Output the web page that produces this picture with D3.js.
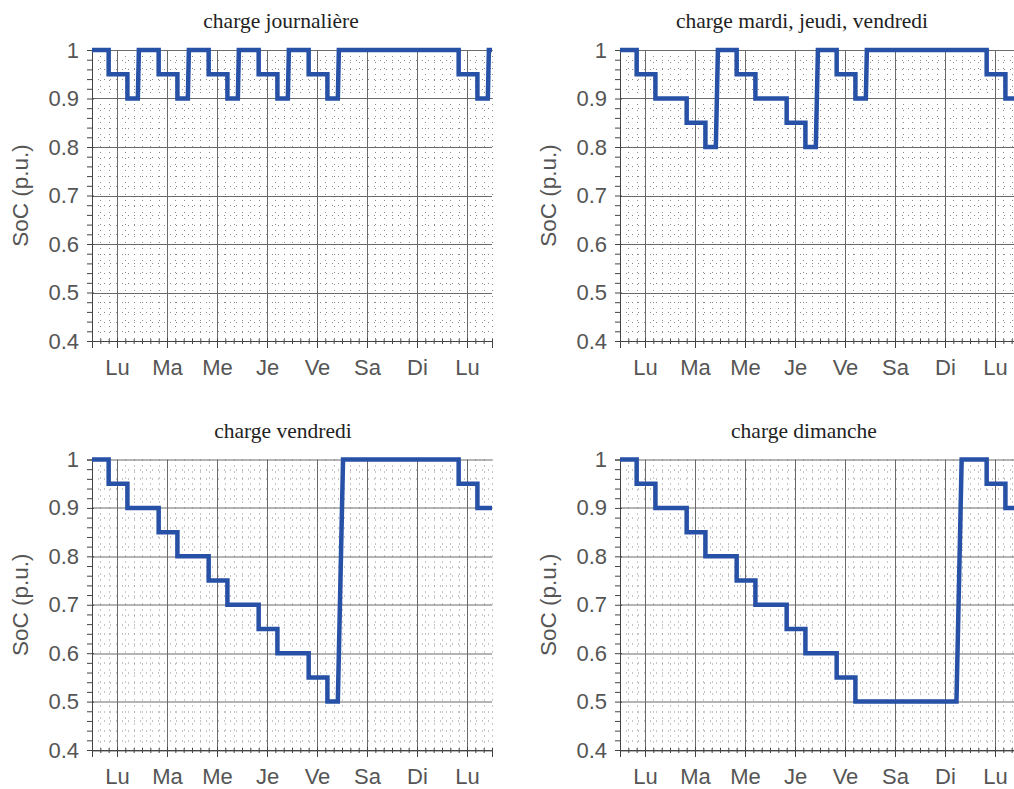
<!DOCTYPE html>
<html><head><meta charset="utf-8">
<script src="https://cdn.jsdelivr.net/npm/d3@7"></script>
<style>body{margin:0;background:#fff} svg{display:block}</style>
</head><body>
<svg id="c" width="1014" height="789"></svg>
<script>
// ---- data ----
const dayLabels = ["Lu","Ma","Me","Je","Ve","Sa","Di","Lu"];
const dayTickHours = [12,36,60,84,108,132,156,180];
const socTicks = [0.4,0.5,0.6,0.7,0.8,0.9,1];
const socTickLabels = ["0.4","0.5","0.6","0.7","0.8","0.9","1"];
const titles = ["charge journalière","charge mardi, jeudi, vendredi","charge vendredi","charge dimanche"];

const hoursJournaliere = [0,8,8,17,17,22,22.5, 32,32,41,41,46,46.5, 56,56,65,65,70,70.5, 80,80,89,89,94,94.5, 104,104,113,113,118,118.5, 176,176,185,185,190,190.5,192];
const socJournaliere   = [1,1,.95,.95,.9,.9,1, 1,.95,.95,.9,.9,1, 1,.95,.95,.9,.9,1, 1,.95,.95,.9,.9,1, 1,.95,.95,.9,.9,1, 1,.95,.95,.9,.9,1,1];

const hoursMaJeVe = [0,8,8,17,17,32,32,41,41,46,47, 56,56,65,65,80,80,89,89,94,95, 104,104,113,113,118,118.5, 176,176,185,185,192];
const socMaJeVe   = [1,1,.95,.95,.9,.9,.85,.85,.8,.8,1, 1,.95,.95,.9,.9,.85,.85,.8,.8,1, 1,.95,.95,.9,.9,1, 1,.95,.95,.9,.9];

const hoursVendredi = [0,8,8,17,17,32,32,41,41,56,56,65,65,80,80,89,89,104,104,113,113,118,120.5,176,176,185,185,192];
const socVendredi   = [1,1,.95,.95,.9,.9,.85,.85,.8,.8,.75,.75,.7,.7,.65,.65,.6,.6,.55,.55,.5,.5,1,1,.95,.95,.9,.9];

const hoursDimanche = [0,8,8,17,17,32,32,41,41,56,56,65,65,80,80,89,89,104,104,113,113,161.5,164,176,176,185,185,192];
const socDimanche   = [1,1,.95,.95,.9,.9,.85,.85,.8,.8,.75,.75,.7,.7,.65,.65,.6,.6,.55,.55,.5,.5,1,1,.95,.95,.9,.9];

const series = [
  [hoursJournaliere, socJournaliere],
  [hoursMaJeVe, socMaJeVe],
  [hoursVendredi, socVendredi],
  [hoursDimanche, socDimanche]
];

// ---- layout ----
const W = 400;
const panels = [
  {x:92,  y:50,    h:291, tx:281},
  {x:620, y:50,    h:291, tx:802},
  {x:92,  y:459.5, h:290.5, tx:283},
  {x:620, y:459.5, h:290.5, tx:804}
];
const sans = "'Liberation Sans', Arial, Helvetica, sans-serif";
const serif = "'Liberation Serif', 'Times New Roman', serif";
const svg = d3.select("#c");

const minorHours = d3.range(0, 193, 4).filter(h => !dayTickHours.includes(h));
const minorSoc = d3.range(40, 101, 2).map(v => v/100).filter(v => Math.abs(v*10 - Math.round(v*10)) > 1e-6);

panels.forEach((p, i) => {
  const g = svg.append("g").attr("transform", `translate(${p.x},${p.y})`);
  const x = d3.scaleLinear().domain([0,192]).range([0,W]);
  const y = d3.scaleLinear().domain([0.4,1]).range([p.h,0]);

  // minor dotted grid
  g.append("g").selectAll("line").data(minorHours).join("line")
    .attr("x1", d => Math.round(x(d))+0.5).attr("x2", d => Math.round(x(d))+0.5).attr("y1", 0).attr("y2", p.h)
    .attr("stroke", "#8a8a8a").attr("stroke-width", 1).attr("stroke-dasharray", "1,5");
  g.append("g").selectAll("line").data(minorSoc).join("line")
    .attr("x1", 0).attr("x2", W).attr("y1", d => Math.round(y(d))+0.5).attr("y2", d => Math.round(y(d))+0.5)
    .attr("stroke", "#8a8a8a").attr("stroke-width", 1).attr("stroke-dasharray", "1,5");

  // major grid
  g.append("g").selectAll("line").data(dayTickHours).join("line")
    .attr("x1", d => Math.round(x(d))+0.5).attr("x2", d => Math.round(x(d))+0.5).attr("y1", 0).attr("y2", p.h)
    .attr("stroke", "#6a6a6a").attr("stroke-width", 1);
  g.append("g").selectAll("line").data(socTicks).join("line")
    .attr("x1", 0).attr("x2", W).attr("y1", d => Math.round(y(d))+0.5).attr("y2", d => Math.round(y(d))+0.5)
    .attr("stroke", "#6a6a6a").attr("stroke-width", 1);

  // x axis
  const xa = g.append("g").attr("transform", `translate(0,${p.h})`)
    .call(d3.axisBottom(x).tickValues(dayTickHours).tickFormat((d,k) => dayLabels[k]).tickSize(7).tickPadding(11));
  xa.select(".domain").attr("stroke", "#444");
  xa.selectAll(".tick line").attr("y1", -3).attr("stroke", "#444");
  xa.selectAll("text").attr("font-family", sans).attr("font-size", 22).attr("fill", "#555");
  const xm = g.append("g").attr("transform", `translate(0,${p.h})`)
    .call(d3.axisBottom(x).tickValues(minorHours).tickFormat("").tickSize(3));
  xm.select(".domain").remove();
  xm.selectAll(".tick line").attr("y1", -2).attr("stroke", "#444");

  // y axis
  const ya = g.append("g")
    .call(d3.axisLeft(y).tickValues(socTicks).tickFormat((d,k) => socTickLabels[k]).tickSize(5).tickPadding(8));
  ya.select(".domain").attr("stroke", "#444");
  ya.selectAll(".tick line").attr("x1", 2).attr("stroke", "#444");
  ya.selectAll("text").attr("font-family", sans).attr("font-size", 22).attr("fill", "#555");
  const ym = g.append("g")
    .call(d3.axisLeft(y).tickValues(minorSoc).tickFormat("").tickSize(5));
  ym.select(".domain").remove();
  ym.selectAll(".tick line").attr("x1", 1).attr("stroke", "#444");

  // y label
  g.append("text")
    .attr("transform", `translate(-64,${p.h/2}) rotate(-90)`)
    .attr("text-anchor", "middle")
    .attr("font-family", sans).attr("font-size", 22.5).attr("fill", "#555")
    .text("SoC (p.u.)");

  // title
  svg.append("text")
    .attr("x", p.tx).attr("y", p.y - 22)
    .attr("text-anchor", "middle")
    .attr("font-family", serif).attr("font-size", 21.5).attr("fill", "#222")
    .text(titles[i]);

  // series
  const [hrs, soc] = series[i];
  const pts = hrs.map((h, k) => [h, soc[k]]);
  g.append("path")
    .attr("d", d3.line().x(d => x(d[0])).y(d => y(d[1]))(pts))
    .attr("fill", "none").attr("stroke", "#2651a6").attr("stroke-width", 4.5)
    .attr("stroke-linejoin", "miter").attr("stroke-linecap", "butt");
});
</script>
</body></html>
